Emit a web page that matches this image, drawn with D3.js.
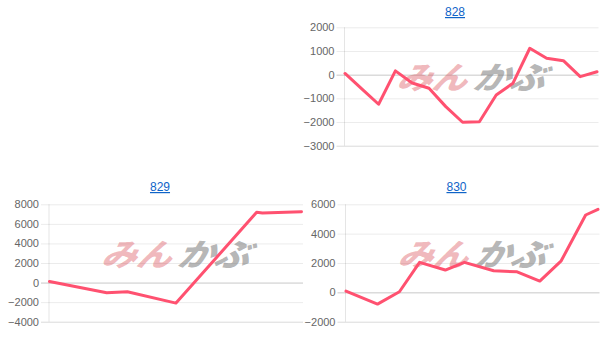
<!DOCTYPE html>
<html>
<head>
<meta charset="utf-8">
<script src="https://d3js.org/d3.v7.min.js"></script>
<style>
  body { margin: 0; background: #fff; }
  svg { display: block; }
</style>
</head>
<body>
<svg width="613" height="353"></svg>
<script>
var svg = d3.select("svg");

// chart titles
var titles = ["828", "829", "830"];

// 828: evenly spaced points
var x828 = [0, 1, 2, 3, 4, 5, 6, 7, 8, 9, 10, 11, 12, 13, 14, 15];
var values828 = [50, -600, -1250, 160, -350, -575, -1350, -2010, -1990, -860, -360, 1115, 690, 590, -85, 125];
var ticks828 = [2000, 1000, 0, -1000, -2000, -3000];

// 829: position along the axis (0-100)
var x829 = [0, 22.7, 30.9, 50.2, 82.2, 84.5, 100];
var values829 = [100, -1040, -940, -2100, 7180, 7100, 7240];
var ticks829 = [8000, 6000, 4000, 2000, 0, -2000, -4000];

// 830: position along the axis (0-100)
var x830 = [0, 12.5, 21.2, 29.2, 39.4, 47.0, 58.6, 67.9, 76.9, 85.4, 95.1, 100];
var values830 = [90, -800, 40, 2045, 1520, 2045, 1470, 1400, 770, 2150, 5270, 5660];
var ticks830 = [6000, 4000, 2000, 0, -2000];

var panels = [
    { title: titles[0], xs: x828, ys: values828, ticks: ticks828,
      left: 345, right: 597, top: 27.3, bottom: 145.7, titleX: 455, titleY: 16 },
    { title: titles[1], xs: x829, ys: values829, ticks: ticks829,
      left: 49.5, right: 301.5, top: 204.3, bottom: 321.7, titleX: 160, titleY: 191 },
    { title: titles[2], xs: x830, ys: values830, ticks: ticks830,
      left: 346, right: 598, top: 204.3, bottom: 321.7, titleX: 456.5, titleY: 191 }
];

panels.forEach(drawPanel);

function drawPanel(p) {
    var g = svg.append("g");
    var axisX = p.left - 0.5;
    var gridRight = p.right + 1.5;

    var x = d3.scaleLinear()
        .domain(d3.extent(p.xs))
        .range([p.left, p.right]);

    var y = d3.scaleLinear()
        .domain(d3.extent(p.ticks))
        .range([p.bottom, p.top]);

    // title
    g.append("text")
        .attr("x", p.titleX)
        .attr("y", p.titleY)
        .attr("text-anchor", "middle")
        .style("font-family", "'Liberation Sans', Arial, sans-serif")
        .style("font-size", "12px")
        .style("fill", "#0f64c8")
        .style("text-decoration", "underline")
        .text(p.title);

    // y axis + gridlines
    var axis = g.append("g")
        .attr("transform", "translate(" + (axisX - 8) + ",0)")
        .call(d3.axisLeft(y)
            .tickValues(p.ticks)
            .tickSize(-(gridRight - axisX + 8))
            .tickPadding(2)
            .tickFormat(d3.format("d")));

    axis.select(".domain").remove();
    axis.selectAll(".tick line")
        .attr("stroke", d => d === 0 ? "rgba(0,0,0,0.22)" : (d === p.ticks[p.ticks.length - 1] ? "rgba(0,0,0,0.15)" : "rgba(0,0,0,0.08)"))
        .attr("stroke-width", 1);
    axis.selectAll(".tick text")
        .style("font-family", "'Liberation Sans', Arial, sans-serif")
        .style("font-size", "11px")
        .style("fill", "#666");

    g.append("line")
        .attr("x1", axisX).attr("x2", axisX)
        .attr("y1", p.top).attr("y2", p.bottom)
        .attr("stroke", "rgba(0,0,0,0.1)");

    // watermark
    var cx = (p.left + p.right) / 2 + 1;
    var cy = (p.top + p.bottom) / 2 - 8;
    var wm = g.append("g")
        .style("font-family", "'Noto Sans CJK JP', sans-serif")
        .style("font-weight", "900")
        .style("font-style", "italic")
        .style("font-size", "31px");
    wm.append("text")
        .attr("x", cx - 74)
        .attr("y", cy + 11)
        .attr("textLength", 70)
        .attr("lengthAdjust", "spacingAndGlyphs")
        .attr("transform", "skewX(-12)")
        .attr("transform-origin", cx + " " + cy)
        .style("fill", "rgba(215,70,80,0.38)")
        .text("みん");
    wm.append("text")
        .attr("x", cx + 2)
        .attr("y", cy + 11)
        .attr("textLength", 72)
        .attr("lengthAdjust", "spacingAndGlyphs")
        .attr("transform", "skewX(-12)")
        .attr("transform-origin", cx + " " + cy)
        .style("fill", "rgba(120,120,120,0.55)")
        .text("かぶ");

    // line
    var line = d3.line()
        .x((d, i) => x(p.xs[i]))
        .y(d => y(d));

    g.append("path")
        .datum(p.ys)
        .attr("d", line)
        .attr("fill", "none")
        .attr("stroke", "#ff5170")
        .attr("stroke-width", 3)
        .attr("stroke-linejoin", "round")
        .attr("stroke-linecap", "round");
}
</script>
</body>
</html>
